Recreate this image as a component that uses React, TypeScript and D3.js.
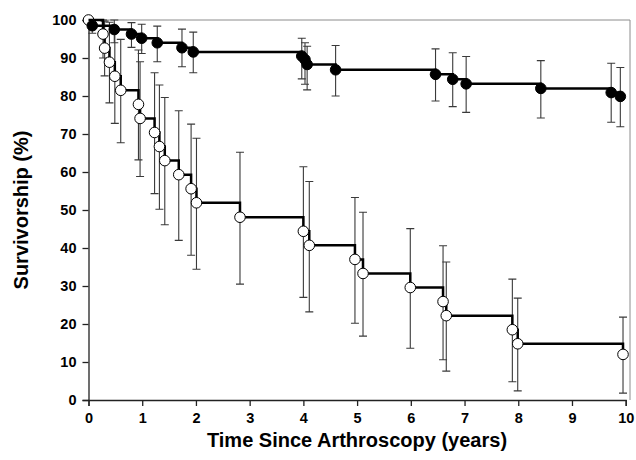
import React, { useEffect, useRef } from 'react';
import * as d3 from 'd3';

// Knee survivorship curves
const arthroTimes = [0.07, 0.48, 0.8, 0.99, 1.28, 1.74, 1.95, 3.97, 4.03, 4.07, 4.6, 6.46, 6.78, 7.03, 8.42, 9.73, 9.9];
const arthroSurv = [98.5, 97.5, 96.3, 95.2, 94.0, 92.7, 91.6, 90.5, 89.6, 88.3, 86.9, 85.7, 84.4, 83.2, 82.0, 80.9, 79.9];
const arthroHi = [99.8, 100, 99.3, 98.9, 98.4, 97.6, 96.8, 95.2, 94.0, 93.1, 93.3, 92.4, 91.4, 90.4, 89.3, 88.6, 87.5];
const arthroLo = [96.5, 94.0, 92.8, 91.2, 89.0, 87.7, 86.1, 84.5, 83.1, 81.6, 80.0, 78.7, 77.2, 75.7, 74.2, 73.1, 71.9];

const openTimes = [0, 0.27, 0.3, 0.39, 0.49, 0.6, 0.93, 0.96, 1.23, 1.32, 1.42, 1.68, 1.91, 2.01, 2.82, 4.0, 4.11, 4.96, 5.11, 5.99, 6.6, 6.66, 7.89, 7.99, 9.95];
const openSurv = [100, 96.3, 92.6, 88.9, 85.2, 81.5, 77.8, 74.1, 70.4, 66.7, 63.0, 59.3, 55.6, 51.9, 48.1, 44.4, 40.7, 37.0, 33.3, 29.6, 25.9, 22.2, 18.5, 14.8, 12.0];
const openHi = [100, 100, 99.7, 99.4, 97.0, 94.9, 92.1, 89.0, 86.1, 82.9, 79.6, 76.1, 72.6, 68.9, 65.2, 61.4, 57.5, 53.3, 49.4, 45.1, 40.6, 36.3, 31.8, 26.8, 21.8];
const openLo = [100, 90.0, 85.3, 78.2, 72.8, 67.7, 63.2, 58.8, 54.3, 50.2, 46.1, 42.0, 38.1, 34.4, 30.5, 27.0, 23.2, 20.2, 16.8, 13.6, 10.6, 7.6, 4.8, 2.4, 1.8];

const xTicks = [0, 1, 2, 3, 4, 5, 6, 7, 8, 9, 10];
const yTicks = [0, 10, 20, 30, 40, 50, 60, 70, 80, 90, 100];

const font = '"Liberation Sans", Arial, sans-serif';

const SurvivalChart = () => {
  const svgRef = useRef<SVGSVGElement>(null);

  useEffect(() => {
    const svg = d3.select(svgRef.current);
    svg.selectAll('*').remove();

    const x = d3.scaleLinear().domain([0, 10]).range([88.5, 625.7]);
    const y = d3.scaleLinear().domain([0, 100]).range([400, 20]);

    // frame (top + right are light grey)
    svg.append('path')
      .attr('d', `M${x(0)},${y(100)}H630V${y(0)}`)
      .attr('fill', 'none')
      .attr('stroke', '#8c8c8c')
      .attr('stroke-width', 1);

    // y axis
    const yAxis = svg.append('g')
      .attr('transform', `translate(${x(0)},0)`)
      .call(d3.axisLeft(y).tickValues(yTicks).tickSize(6).tickPadding(6));
    yAxis.select('.domain').attr('stroke', '#222').attr('stroke-width', 1.3);
    yAxis.selectAll('line').attr('stroke', '#222').attr('stroke-width', 1.3);
    yAxis.selectAll('text')
      .attr('font-family', font)
      .attr('font-size', 14.5)
      .attr('font-weight', 'bold')
      .attr('fill', '#000');

    // x axis
    const xAxis = svg.append('g')
      .attr('transform', `translate(0,${y(0)})`)
      .call(d3.axisBottom(x).tickValues(xTicks).tickSize(6).tickPadding(7));
    xAxis.select('.domain').attr('stroke', '#222').attr('stroke-width', 1.3);
    xAxis.selectAll('line').attr('stroke', '#222').attr('stroke-width', 1.3);
    xAxis.selectAll('text')
      .attr('font-family', font)
      .attr('font-size', 14.5)
      .attr('font-weight', 'bold')
      .attr('fill', '#000');

    // titles
    svg.append('text')
      .attr('x', 357)
      .attr('y', 447)
      .attr('text-anchor', 'middle')
      .attr('font-family', font)
      .attr('font-size', 20)
      .attr('font-weight', 'bold')
      .text('Time Since Arthroscopy (years)');

    svg.append('text')
      .attr('transform', `translate(28,${y(50)}) rotate(-90)`)
      .attr('text-anchor', 'middle')
      .attr('font-family', font)
      .attr('font-size', 20)
      .attr('font-weight', 'bold')
      .text('Survivorship (%)');

    const series = [
      { t: openTimes, s: openSurv, hi: openHi, lo: openLo, fill: '#fff' },
      { t: arthroTimes, s: arthroSurv, hi: arthroHi, lo: arthroLo, fill: '#000' },
    ];

    const line = d3.line<[number, number]>()
      .x(d => x(d[0]))
      .y(d => y(d[1]))
      .curve(d3.curveStepAfter);

    // error bars
    series.forEach(sr => {
      const bars = svg.append('g')
        .attr('stroke', '#3a3a3a')
        .attr('stroke-width', 1.1)
        .attr('fill', 'none');
      sr.t.forEach((t, i) => {
        if (sr.hi[i] - sr.lo[i] < 0.5) return;
        const cx = x(t);
        bars.append('path')
          .attr('d', `M${cx},${y(sr.hi[i])}V${y(sr.lo[i])}M${cx - 4},${y(sr.hi[i])}H${cx + 4}M${cx - 4},${y(sr.lo[i])}H${cx + 4}`);
      });
    });

    series.forEach(sr => {
      const pts: [number, number][] = [[0, 100], ...sr.t.map((t, i) => [t, sr.s[i]] as [number, number])];
      svg.append('path')
        .attr('d', line(pts))
        .attr('fill', 'none')
        .attr('stroke', '#000')
        .attr('stroke-width', 2.5);

      svg.append('g')
        .selectAll('circle')
        .data(sr.t)
        .enter()
        .append('circle')
        .attr('cx', d => x(d))
        .attr('cy', (d, i) => y(sr.s[i]))
        .attr('r', 5.3)
        .attr('fill', sr.fill)
        .attr('stroke', '#000')
        .attr('stroke-width', 1);
    });
  }, []);

  return <svg ref={svgRef} width={636} height={460} style={{ display: 'block' }} />;
};

export default function App() {
  return (
    <div style={{ position: 'fixed', left: 0, top: 0, width: 636, height: 460, background: '#fff' }}>
      <SurvivalChart />
    </div>
  );
}
